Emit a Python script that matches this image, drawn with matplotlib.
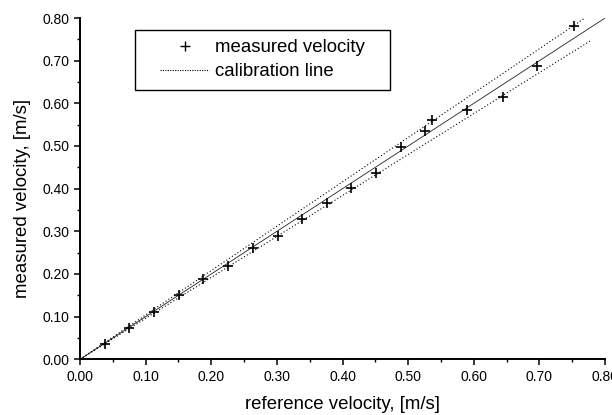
import numpy as np
import matplotlib.pyplot as plt
from matplotlib.lines import Line2D
from matplotlib.legend_handler import HandlerLine2D
from matplotlib.ticker import MultipleLocator

plt.rcParams['font.family'] = ['Liberation Sans', 'DejaVu Sans']

# measured points
ref_v = [0.038, 0.075, 0.113, 0.151, 0.188, 0.226, 0.263, 0.301, 0.338, 0.376,
         0.413, 0.451, 0.489, 0.525, 0.537, 0.590, 0.644, 0.697, 0.752]
meas_v = [0.035, 0.074, 0.111, 0.150, 0.188, 0.219, 0.262, 0.290, 0.328, 0.366,
          0.401, 0.436, 0.498, 0.534, 0.560, 0.584, 0.614, 0.687, 0.781]

# calibration line and +-4% band
cal_slope = 1.0
band_hi = 1.04
band_lo = 0.96
cal_x = [0.0, 0.80]
band_x = [0.0, 0.78]

fig = plt.figure(figsize=(6.12, 4.15), dpi=100)
ax = fig.add_axes([0.1307, 0.1342, 0.858, 0.8224])

ax.plot(cal_x, [cal_slope * v for v in cal_x], color='#222222', lw=0.6)
ax.plot(band_x, [band_hi * v for v in band_x], color='black', lw=0.8, ls=(0, (1, 2)))
ax.plot(band_x, [band_lo * v for v in band_x], color='black', lw=0.8, ls=(0, (1, 2)))
ax.plot(ref_v, meas_v, ls='none', marker='+', color='black', ms=7.5, mew=1.2)

ax.set_xlim(0, 0.80)
ax.set_ylim(0, 0.80)
ax.xaxis.set_major_locator(MultipleLocator(0.1))
ax.yaxis.set_major_locator(MultipleLocator(0.1))
ax.xaxis.set_minor_locator(MultipleLocator(0.05))
ax.yaxis.set_minor_locator(MultipleLocator(0.05))
ax.xaxis.set_major_formatter(lambda v, p: f"{v:.2f}")
ax.yaxis.set_major_formatter(lambda v, p: f"{v:.2f}")
ax.tick_params(which='major', direction='out', length=4, width=1.1, labelsize=10)
ax.tick_params(which='minor', direction='out', length=2.5, width=1.0)

for s in ['top', 'right']:
    ax.spines[s].set_visible(False)
for s in ['left', 'bottom']:
    ax.spines[s].set_linewidth(1.4)

ax.set_xlabel("reference velocity, [m/s]", fontsize=13.4)
ax.set_ylabel("measured velocity, [m/s]", fontsize=13.4)
ax.xaxis.set_label_coords(0.5, -0.107)
ax.yaxis.set_label_coords(-0.093, 0.47)

h_meas = Line2D([], [], ls='none', marker='+', color='black', ms=7.5, mew=1.0)
h_cal = Line2D([], [], color='black', lw=0.8, ls=(0, (1, 1.2)))
leg = ax.legend([h_meas, h_cal], ["measured velocity", "calibration line"],
                handler_map={h_meas: HandlerLine2D(xpad=0.87),
                             h_cal: HandlerLine2D(xpad=0.87)},
                loc='upper left', mode='expand',
                bbox_to_anchor=(135 / 612, 1 - 89.5 / 415, 255 / 612, 59.5 / 415),
                bbox_transform=fig.transFigure, fontsize=13.4, fancybox=False,
                framealpha=1, edgecolor='black', handlelength=3.46,
                handletextpad=0.34, borderpad=0.5, labelspacing=0.38,
                borderaxespad=0)
leg.get_frame().set_linewidth(1.0)

fig.savefig("out.png", dpi=100)
